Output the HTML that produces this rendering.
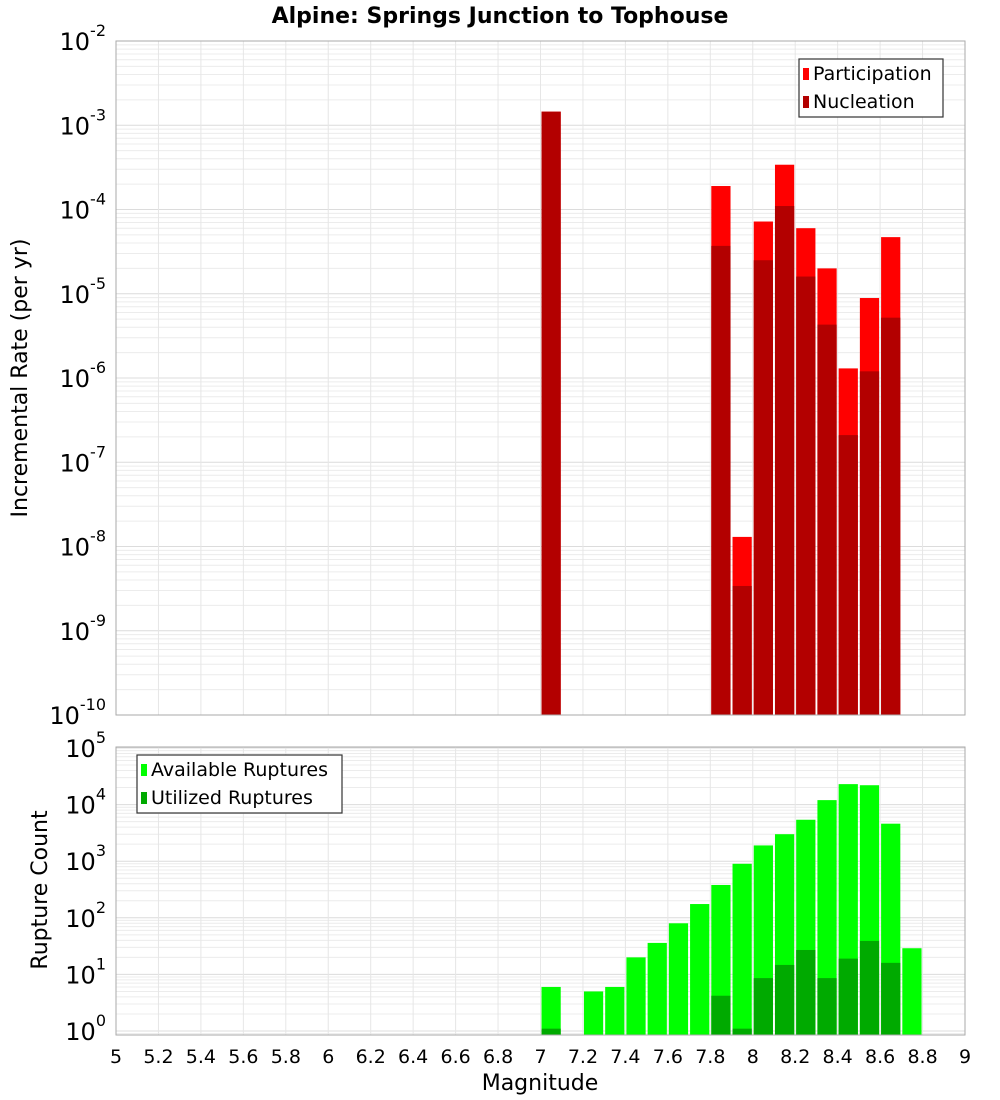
<!DOCTYPE html>
<html><head><meta charset="utf-8"><style>
html,body{margin:0;padding:0;background:#fff;}
svg{display:block;font-family:"DejaVu Sans","Liberation Sans",sans-serif;}
</style></head><body>
<svg id="chart" width="1000" height="1100" xmlns="http://www.w3.org/2000/svg">
<text x="500" y="23" text-anchor="middle" font-size="22" font-weight="bold">Alpine: Springs Junction to Tophouse</text>
<g id="top"></g><g id="bot"></g>
<text transform="translate(27,378) rotate(-90)" text-anchor="middle" font-size="22">Incremental Rate (per yr)</text>
<text transform="translate(47,890) rotate(-90)" text-anchor="middle" font-size="22">Rupture Count</text>
<text x="540" y="1090" text-anchor="middle" font-size="22">Magnitude</text>
</svg>
<script>
const binCenters=[7.05,7.15,7.25,7.35,7.45,7.55,7.65,7.75,7.85,7.95,8.05,8.15,8.25,8.35,8.45,8.55,8.65,8.75];
const participation=[1.45e-3,0,0,0,0,0,0,0,1.9e-4,1.3e-8,7.2e-5,3.4e-4,6e-5,2e-5,1.3e-6,8.9e-6,4.7e-5,0];
const nucleation=[1.45e-3,0,0,0,0,0,0,0,3.7e-5,3.4e-9,2.5e-5,1.1e-4,1.6e-5,4.3e-6,2.1e-7,1.2e-6,5.2e-6,0];
const available=[6,0,5,6,20,36,80,175,380,900,1900,3000,5400,12000,23000,22000,4600,29];
const utilized=[1.1,0,0,0,0,0,0,0,4.2,1.1,8.6,14.7,27,8.6,19,39,16,0];
const xTicks=[5,5.2,5.4,5.6,5.8,6,6.2,6.4,6.6,6.8,7,7.2,7.4,7.6,7.8,8,8.2,8.4,8.6,8.8,9];
const topExps=[-2,-3,-4,-5,-6,-7,-8,-9,-10];
const botExps=[5,4,3,2,1,0];
const NS="http://www.w3.org/2000/svg";
const L=116,R=965;
const xs=m=>L+(m-5)*(R-L)/4;
function mk(p,t,a){const e=document.createElementNS(NS,t);for(const k in a)e.setAttribute(k,a[k]);p.appendChild(e);return e;}
function panel(g,top,bot,yOf,minExp,maxExp,exps,series,colors,legend,lx,ly,lw,name){
  mk(g,'rect',{x:L,y:top,width:R-L,height:bot-top,fill:'#fff'});
  for(let e=minExp-1;e<=maxExp;e++)for(let k=1;k<10;k++){const y=yOf(k*Math.pow(10,e));if(y<top||y>bot)continue;
    const l=mk(g,'line',{x1:L,x2:R,y1:y,y2:y,stroke:k==1?'#dcdcdc':'#ececec','stroke-width':1});
    }
  xTicks.forEach(t=>{const l=mk(g,'line',{x1:xs(t),x2:xs(t),y1:top,y2:bot,stroke:'#e6e6e6'});
    });
  series.forEach((arr,si)=>{arr.forEach((v,i)=>{if(v<=0)return;const x0=xs(binCenters[i]-0.05)+1,x1=xs(binCenters[i]+0.05)-1;const y=Math.max(top,yOf(v));
    const r=mk(g,'rect',{x:x0,y:y,width:x1-x0,height:bot-y,fill:colors[si]});
    
    });});
  const fr=mk(g,'rect',{x:L,y:top,width:R-L,height:bot-top,fill:'none',stroke:'#aaa'});
  
  exps.forEach(e=>{const y=yOf(Math.pow(10,e));const t=mk(g,'text',{x:L-10,y:y+9,'text-anchor':'end','font-size':24});
    
    t.textContent='10';const s=mk(t,'tspan',{dy:-14,'font-size':16});s.textContent=String(e);});
  const lg=mk(g,'g',{});
  mk(lg,'rect',{x:lx,y:ly,width:lw,height:58,fill:'#fff',stroke:'#333','stroke-width':1.2});
  legend.forEach((n,i)=>{mk(lg,'rect',{x:lx+4,y:ly+9+i*28,width:6,height:12,fill:colors[i]});
    const t=mk(lg,'text',{x:lx+14,y:ly+21+i*28,'font-size':19});t.textContent=n;
    });
}
const tg=document.getElementById('top'),bg=document.getElementById('bot');
const yTop=v=>41+(-2-Math.log10(v))*84.25;
panel(tg,41,715,yTop,-10,-2,topExps,[participation,nucleation],['#ff0000','#b30000'],['Participation','Nucleation'],799,59,144,'rate');
const yBot=v=>1031-Math.log10(v)*56.6;
panel(bg,747,1035,yBot,0,5,botExps,[available,utilized],['#00ff00','#00aa00'],['Available Ruptures','Utilized Ruptures'],137,755,205,'count');
xTicks.forEach(t=>{const e=mk(bg,'text',{x:xs(t),y:1063,'text-anchor':'middle','font-size':19});e.textContent=String(t);
  });
</script>
</body></html>
